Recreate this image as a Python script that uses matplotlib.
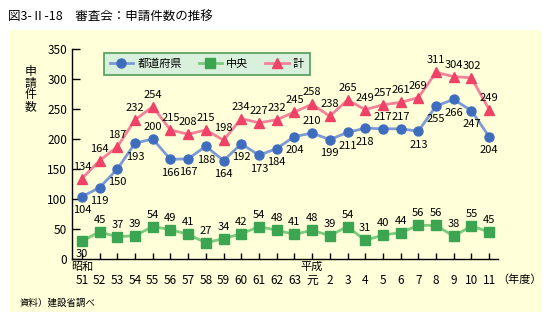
import matplotlib.pyplot as plt
from matplotlib.patches import Rectangle

plt.rcParams['font.family'] = ['Noto Sans CJK JP', 'DejaVu Sans']

years = ["51", "52", "53", "54", "55", "56", "57", "58", "59", "60", "61", "62", "63",
         "元", "2", "3", "4", "5", "6", "7", "8", "9", "10", "11"]
todofuken = [104, 119, 150, 193, 200, 166, 167, 188, 164, 192, 173, 184, 204, 210,
             199, 211, 218, 217, 217, 213, 255, 266, 247, 204]
chuo = [30, 45, 37, 39, 54, 49, 41, 27, 34, 42, 54, 48, 41, 48, 39, 54, 31, 40,
        44, 56, 56, 38, 55, 45]
total = [134, 164, 187, 232, 254, 215, 208, 215, 198, 234, 227, 232, 245, 258,
         238, 265, 249, 257, 261, 269, 311, 304, 302, 249]

# where the labels go: a = above, b = below
pos_todofuken = ["b", "b", "b", "b", "a", "b", "b", "b", "b", "b", "b", "b", "b", "a",
                 "b", "b", "b", "a", "a", "b", "b", "b", "b", "b"]
pos_chuo = ["b"] + ["a"] * 23
pos_total = ["a"] * 24

W, H = 552, 322
fig = plt.figure(figsize=(W / 100, H / 100), dpi=100)
fig.patches.append(Rectangle((10 / W, 10 / H), 532 / W, 282 / H,
                             transform=fig.transFigure, facecolor="#FFFFD9",
                             edgecolor="none", zorder=-5))

ax = fig.add_axes([72 / W, (H - 259) / H, 426 / W, 210 / H])
ax.set_facecolor("none")
x = list(range(len(years)))

series = [
    (todofuken, "都道府県", "#7C9BD6", "#3F6DBE", "o", 6.5, pos_todofuken),
    (chuo, "中央", "#7ECB7E", "#3CA552", "s", 7, pos_chuo),
    (total, "計", "#F4829A", "#EF4266", "^", 7.5, pos_total),
]
handles = []
for vals, name, lc, mc, mk, ms, pos in series:
    h, = ax.plot(x, vals, color=lc, lw=2, marker=mk, ms=ms, mfc=mc, mec=mc,
                 label=name, clip_on=False)
    handles.append(h)
    for xi, v, p in zip(x, vals, pos):
        dy = 5 if p == "a" else -6
        ax.annotate(str(v), (xi, v), xytext=(0, dy), textcoords="offset points",
                    ha="center", va="bottom" if p == "a" else "top", fontsize=8)

ax.set_xlim(-0.56, 23.5)
ax.set_ylim(0, 350)
ax.set_yticks(range(0, 351, 50))
ax.set_xticks(x)
ax.set_xticklabels(years, fontsize=8.5)
ax.tick_params(axis="y", direction="in", length=5.8, width=1, labelsize=8.5, pad=3.5)
ax.tick_params(axis="x", direction="in", length=4.3, width=1, pad=11)
for s in ["top", "right"]:
    ax.spines[s].set_visible(False)
for s in ["left", "bottom"]:
    ax.spines[s].set_linewidth(1)

ax.annotate("昭和", xy=(0, 0), xycoords=("data", "axes fraction"), xytext=(0, -2),
            textcoords="offset points", ha="center", va="top", fontsize=8)
ax.annotate("平成", xy=(13, 0), xycoords=("data", "axes fraction"), xytext=(0, -2),
            textcoords="offset points", ha="center", va="top", fontsize=8)
ax.annotate("（年度）", xy=(23, 0), xycoords=("data", "axes fraction"), xytext=(6, -11),
            textcoords="offset points", ha="left", va="top", fontsize=8)

fig.text(30 / W, 1 - 89 / H, "申\n請\n件\n数", ha="center", va="center",
         fontsize=8.5, linespacing=0.85)

fig.text(8 / W, 1 - 17 / H, "図3-Ⅱ-18　審査会：申請件数の推移", ha="left", va="center",
         fontsize=9)
fig.text(20 / W, 1 - 303 / H, "資料）建設省調べ", ha="left", va="center", fontsize=6.8)

leg = ax.legend(handles=handles, loc="upper left", ncol=3,
                bbox_to_anchor=(104 / W, 1 - 53 / H), bbox_transform=fig.transFigure,
                fontsize=8, handlelength=2.1, handletextpad=0.4, columnspacing=1.5,
                fancybox=False, borderpad=0.5, borderaxespad=0)
leg.get_frame().set_facecolor("#D9F0DC")
leg.get_frame().set_edgecolor("#4E9E5A")
leg.get_frame().set_linewidth(1.2)
leg.get_frame().set_alpha(1)

fig.savefig("out.png", dpi=100)
